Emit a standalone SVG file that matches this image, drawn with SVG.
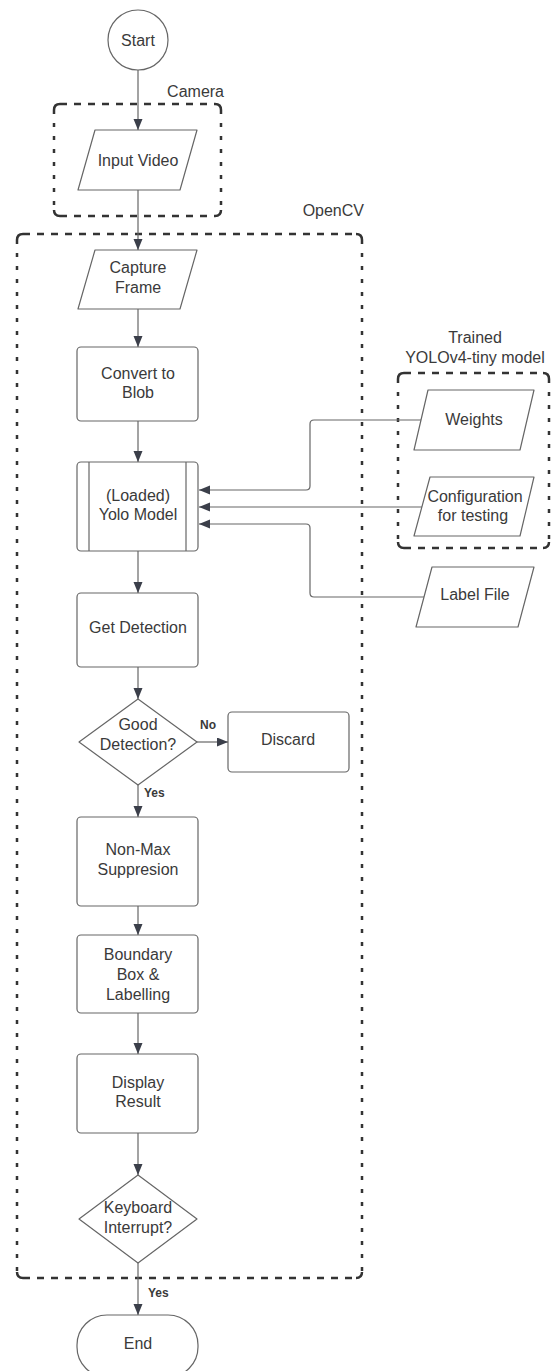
<svg xmlns="http://www.w3.org/2000/svg" width="551" height="1371" viewBox="0 0 551 1371">
<style>
.shape{fill:#fff;stroke:#666;stroke-width:1.2;stroke-linejoin:round}
.t{font-family:"Liberation Sans",Arial,sans-serif;font-size:16px;fill:#3a3a3a;text-anchor:middle}
.tl{font-family:"Liberation Sans",Arial,sans-serif;font-size:16px;fill:#3a3a3a}
.b{font-family:"Liberation Sans",Arial,sans-serif;font-size:12px;font-weight:bold;fill:#3a3a3a}
.c{fill:none;stroke:#666;stroke-width:1.2}
.dh{fill:none;stroke:#333;stroke-width:2.5;stroke-dasharray:7 7}
.dv{fill:none;stroke:#333;stroke-width:2.5;stroke-dasharray:4 9}
.dc{fill:none;stroke:#333;stroke-width:2.5}
</style>
<defs>
<marker id="ah" markerUnits="userSpaceOnUse" markerWidth="12" markerHeight="10" refX="11" refY="4.5" orient="auto">
<path d="M0,0 L11,4.5 L0,9 Z" fill="#3b3f4a"/>
</marker>
</defs>

<g id="group-camera">
<path class="dh" d="M60,104 H215 M60,216 H215"/>
<path class="dv" d="M54,110 V210 M221,110 V210"/>
<path class="dc" d="M54,110 Q54,104 60,104 M215,104 Q221,104 221,110 M221,210 Q221,216 215,216 M60,216 Q54,216 54,210"/>
<text class="tl" x="224" y="97" text-anchor="end">Camera</text>
</g>

<g id="group-opencv">
<path class="dh" d="M23,234 H356 M23,1278 H356"/>
<path class="dv" d="M17,240 V1272 M362,240 V1272"/>
<path class="dc" d="M17,240 Q17,234 23,234 M356,234 Q362,234 362,240 M362,1272 Q362,1278 356,1278 M23,1278 Q17,1278 17,1272"/>
<text class="tl" x="364" y="216" text-anchor="end">OpenCV</text>
</g>

<g id="group-trained">
<path class="dh" d="M404,373 H543 M404,548 H543"/>
<path class="dv" d="M398,379 V542 M549,379 V542"/>
<path class="dc" d="M398,379 Q398,373 404,373 M543,373 Q549,373 549,379 M549,542 Q549,548 543,548 M404,548 Q398,548 398,542"/>
<text class="t" x="475" y="343">Trained</text>
<text class="t" x="475" y="363">YOLOv4-tiny model</text>
</g>

<g id="connectors">
<line class="c" x1="138" y1="70" x2="138" y2="130" marker-end="url(#ah)"/>
<line class="c" x1="138" y1="190" x2="138" y2="250" marker-end="url(#ah)"/>
<line class="c" x1="138" y1="309" x2="138" y2="347" marker-end="url(#ah)"/>
<line class="c" x1="138" y1="421" x2="138" y2="462" marker-end="url(#ah)"/>
<line class="c" x1="138" y1="551" x2="138" y2="593" marker-end="url(#ah)"/>
<line class="c" x1="138" y1="667" x2="138" y2="699" marker-end="url(#ah)"/>
<line class="c" x1="197" y1="742" x2="228" y2="742" marker-end="url(#ah)"/>
<line class="c" x1="138" y1="785" x2="138" y2="817" marker-end="url(#ah)"/>
<line class="c" x1="138" y1="906" x2="138" y2="935" marker-end="url(#ah)"/>
<line class="c" x1="138" y1="1013" x2="138" y2="1054" marker-end="url(#ah)"/>
<line class="c" x1="138" y1="1133" x2="138" y2="1175" marker-end="url(#ah)"/>
<line class="c" x1="138" y1="1263" x2="138" y2="1315" marker-end="url(#ah)"/>
<path class="c" d="M421,420 H314 Q310,420 310,424 V486 Q310,490 306,490 H199" marker-end="url(#ah)"/>
<path class="c" d="M423,507 H199" marker-end="url(#ah)"/>
<path class="c" d="M424,597 H314 Q310,597 310,593 V528 Q310,524 306,524 H199" marker-end="url(#ah)"/>
<text class="b" x="200" y="729">No</text>
<text class="b" x="144" y="797">Yes</text>
<text class="b" x="148" y="1297">Yes</text>
</g>

<g id="start">
<circle class="shape" cx="138" cy="40" r="30"/>
<text class="t" x="138" y="46">Start</text>
</g>

<g id="input-video">
<path class="shape" d="M95,130 H197 L180,190 H78 Z"/>
<text class="t" x="138" y="166">Input Video</text>
</g>

<g id="capture-frame">
<path class="shape" d="M95,250 H197 L180,309 H78 Z"/>
<text class="t" x="138" y="273">Capture</text>
<text class="t" x="138" y="293">Frame</text>
</g>

<g id="convert-blob">
<rect class="shape" x="77" y="347" width="121" height="74" rx="4"/>
<text class="t" x="138" y="379">Convert to</text>
<text class="t" x="138" y="398">Blob</text>
</g>

<g id="yolo-model">
<rect class="shape" x="77" y="462" width="121" height="89" rx="4"/>
<line class="c" x1="89" y1="462" x2="89" y2="551"/>
<line class="c" x1="186" y1="462" x2="186" y2="551"/>
<text class="t" x="138" y="501">(Loaded)</text>
<text class="t" x="138" y="520">Yolo Model</text>
</g>

<g id="get-detection">
<rect class="shape" x="77" y="593" width="121" height="74" rx="4"/>
<text class="t" x="138" y="633">Get Detection</text>
</g>

<g id="good-detection">
<path class="shape" d="M138,699 L197,742 L138,785 L79,742 Z"/>
<text class="t" x="138" y="730">Good</text>
<text class="t" x="138" y="750">Detection?</text>
</g>

<g id="discard">
<rect class="shape" x="228" y="712" width="121" height="60" rx="4"/>
<text class="t" x="288" y="745">Discard</text>
</g>

<g id="non-max">
<rect class="shape" x="77" y="817" width="121" height="89" rx="4"/>
<text class="t" x="138" y="855">Non-Max</text>
<text class="t" x="138" y="875">Suppresion</text>
</g>

<g id="boundary-box">
<rect class="shape" x="77" y="935" width="121" height="78" rx="4"/>
<text class="t" x="138" y="960">Boundary</text>
<text class="t" x="138" y="980">Box &amp;</text>
<text class="t" x="138" y="1000">Labelling</text>
</g>

<g id="display-result">
<rect class="shape" x="77" y="1054" width="121" height="79" rx="4"/>
<text class="t" x="138" y="1088">Display</text>
<text class="t" x="138" y="1107">Result</text>
</g>

<g id="keyboard-interrupt">
<path class="shape" d="M138,1175 L197,1219 L138,1263 L79,1219 Z"/>
<text class="t" x="138" y="1213">Keyboard</text>
<text class="t" x="138" y="1233">Interrupt?</text>
</g>

<g id="end">
<rect class="shape" x="77" y="1315" width="121" height="62" rx="30"/>
<text class="t" x="138" y="1349">End</text>
</g>

<g id="weights">
<path class="shape" d="M428,390 H534 L520,450 H414 Z"/>
<text class="t" x="474" y="425">Weights</text>
</g>

<g id="configuration">
<path class="shape" d="M430,477 H534 L520,536 H414 Z"/>
<text class="t" x="475" y="502">Configuration</text>
<text class="t" x="473" y="521">for testing</text>
</g>

<g id="label-file">
<path class="shape" d="M432,567 H534 L518,627 H416 Z"/>
<text class="t" x="475" y="600">Label File</text>
</g>
</svg>
